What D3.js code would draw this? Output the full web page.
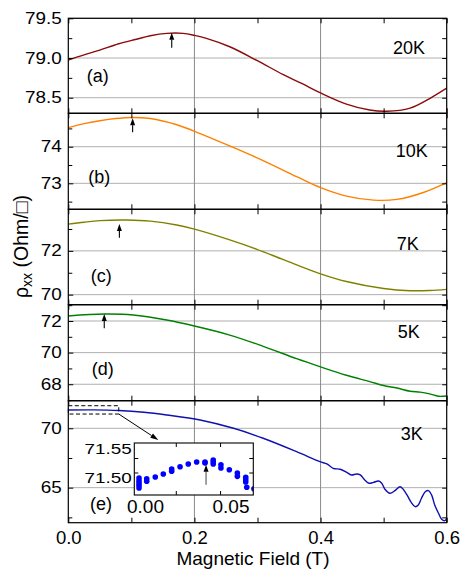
<!DOCTYPE html>
<html><head><meta charset="utf-8">
<script src="https://cdn.jsdelivr.net/npm/d3@7"></script>
<style>
body{margin:0;background:#fff;}
svg{display:block;font-family:"Liberation Sans",Arial,Helvetica,sans-serif;}
</style></head><body><svg id="chart" width="460" height="569"></svg>
<script>
// ---------------- data ----------------
const temperatures = ["20K", "10K", "7K", "5K", "3K"];
const panelLetters = ["(a)", "(b)", "(c)", "(d)", "(e)"];

const field20K = [0, 0.025, 0.05, 0.08, 0.108, 0.13, 0.156, 0.182, 0.2, 0.219, 0.256, 0.299, 0.341, 0.37, 0.4, 0.441, 0.478, 0.505, 0.542, 0.573, 0.6];
const rho20K   = [78.975, 79.04, 79.10, 79.18, 79.236, 79.28, 79.31, 79.31, 79.285, 79.248, 79.142, 78.97, 78.79, 78.68, 78.56, 78.42, 78.345, 78.33, 78.37, 78.49, 78.62];

const field10K = [0, 0.025, 0.05, 0.075, 0.1, 0.13, 0.172, 0.209, 0.256, 0.309, 0.362, 0.4, 0.441, 0.484, 0.521, 0.563, 0.6];
const rho10K   = [74.52, 74.63, 74.71, 74.77, 74.80, 74.77, 74.60, 74.36, 74.02, 73.62, 73.18, 72.88, 72.65, 72.54, 72.56, 72.75, 73.02];

const field7K = [0, 0.025, 0.05, 0.093, 0.13, 0.172, 0.2, 0.256, 0.299, 0.341, 0.4, 0.441, 0.5, 0.542, 0.573, 0.6];
const rho7K   = [73.22, 73.31, 73.38, 73.41, 73.36, 73.18, 72.99, 72.50, 72.07, 71.60, 70.95, 70.60, 70.28, 70.18, 70.19, 70.24];

const field5K = [0, 0.057, 0.103, 0.156, 0.2, 0.256, 0.309, 0.362, 0.4, 0.441, 0.478, 0.5, 0.521, 0.542, 0.558, 0.573, 0.587, 0.6];
const rho5K   = [72.32, 72.44, 72.38, 72.06, 71.68, 71.11, 70.40, 69.62, 69.1, 68.57, 68.17, 67.92, 67.76, 67.56, 67.50, 67.39, 67.24, 67.26];

const field3K = [0, 0.04, 0.08, 0.12, 0.156, 0.209, 0.262, 0.309, 0.362, 0.399, 0.41, 0.42, 0.431, 0.441, 0.449, 0.457, 0.463, 0.470, 0.477, 0.484, 0.492, 0.497, 0.502, 0.51, 0.518, 0.526, 0.531, 0.537, 0.544, 0.55, 0.555, 0.56, 0.566, 0.571, 0.576, 0.581, 0.587, 0.592, 0.597, 0.6];
const rho3K   = [71.54, 71.55, 71.50, 71.35, 71.12, 70.70, 70.0, 69.16, 68.03, 67.19, 67.0, 66.63, 66.55, 66.30, 66.07, 66.15, 66.07, 65.65, 65.37, 65.45, 65.56, 65.37, 64.87, 64.53, 64.75, 65.08, 64.87, 64.39, 63.74, 63.40, 63.54, 64.11, 64.66, 64.75, 64.39, 63.54, 62.85, 62.34, 62.22, 62.42];

const seriesFields = [field20K, field10K, field7K, field5K, field3K];
const seriesRho    = [rho20K, rho10K, rho7K, rho5K, rho3K];

// axis ranges and ticks
const xDomain = [0, 0.6];
const xMajorTicks = [0, 0.2, 0.4, 0.6];
const xMinorTicks = [0.1, 0.3, 0.5];
const xGridValues = [0.2, 0.4];
const yDomains = [[78.304, 79.5], [72.29, 74.913], [69.541, 73.899], [66.96, 73.03], [62.05, 72.323]];
const yMajorTicks = [[78.5, 79.0, 79.5], [73, 74], [70, 72], [68, 70, 72], [65, 70]];
const yMinorTicks = [[78.75, 79.25], [72.5, 73.5, 74.5], [71, 73], [67, 69, 71, 73], [62.5, 67.5]];
const yTickFormats = [".1f", "d", "d", "d", "d"];

// peak markers (arrows) in panels a-d
const peakField = [0.164, 0.102, 0.081, 0.057];
const peakArrowTip = [79.319, 74.776, 73.225, 72.442];
const peakArrowTail = [79.13, 74.394, 72.596, 71.539];

// zoom box in panel (e) and pointer arrow
const zoomBoxField = [0, 0.08];
const zoomBoxRho = [71.2, 71.9];
const pointerFrom = [0.08, 71.2];
const pointerTo = [0.1427, 69.015];

// inset data (3K, low field)
const insetField = [-0.0035, -0.0035, -0.0035, -0.0035, -0.0035, 0.001, 0.001, 0.006, 0.0107, 0.0156, 0.0156, 0.0205, 0.0253, 0.0302, 0.0351, 0.0351, 0.0399, 0.0399, 0.0399, 0.0444, 0.0444, 0.0493, 0.054, 0.054, 0.0589, 0.0589, 0.0589, 0.0595, 0.0637];
const insetRho   = [71.5005, 71.4959, 71.4919, 71.4879, 71.4833, 71.4993, 71.4948, 71.5022, 71.5074, 71.5160, 71.5121, 71.5200, 71.5247, 71.5281, 71.5281, 71.5264, 71.5316, 71.5281, 71.5247, 71.5234, 71.5178, 71.5148, 71.5091, 71.5034, 71.5017, 71.4976, 71.4936, 71.4845, 71.4821];
const insetXDomain = [-0.00626, 0.06333];
const insetYDomain = [71.4712, 71.5609];
const insetXLabels = [0, 0.05];
const insetYLabels = [71.50, 71.55];
const insetXTicks = [0.018, 0.0439];
const insetYTicks = [71.51, 71.535];
const insetPeakField = 0.0357;
const insetArrowTip = 71.5234;
const insetArrowTail = 71.489;

// ---------------- layout & style ----------------
const colors = ["#8B0A0A", "#FF8000", "#808000", "#008000", "#1010B0"];
const plotLeft = 68.3, plotRight = 446.7;
const panelTops = [18.3, 113.3, 209.3, 304.7, 400.7];
const panelBottoms = [113.3, 209.3, 304.7, 400.7, 522.7];
const tempLabelPos = [[393, 54.2], [395.7, 156.5], [396.7, 249.8], [397.7, 338.2], [400.7, 439.8]];
const letterPos = [[86.7, 82.4], [88.3, 183], [90.7, 282], [91.7, 374.7], [90, 509.7]];
const insetBox = {left: 134.3, right: 253.3, top: 443, bottom: 495};

const svg = d3.select("#chart");
const x = d3.scaleLinear().domain(xDomain).range([plotLeft, plotRight]);

function arrow(g, x1, y1, x2, y2, headLen, headW, lineColor, lw) {
  const ang = Math.atan2(y2 - y1, x2 - x1);
  const bx = x2 - headLen * Math.cos(ang), by = y2 - headLen * Math.sin(ang);
  g.append("line").attr("x1", x1).attr("y1", y1).attr("x2", bx).attr("y2", by)
    .attr("stroke", lineColor).attr("stroke-width", lw);
  const px = -Math.sin(ang) * headW / 2, py = Math.cos(ang) * headW / 2;
  g.append("path").attr("d", `M${x2},${y2}L${bx + px},${by + py}L${bx - px},${by - py}Z`).attr("fill", "#000");
}

function styleAxis(sel) {
  sel.select(".domain").remove();
  sel.selectAll(".tick line").attr("stroke", "#000").attr("stroke-width", 1);
}

let panelScales = [];
temperatures.forEach((t, i) => {
  const top = panelTops[i], bottom = panelBottoms[i];
  const y = d3.scaleLinear().domain(yDomains[i]).range([bottom, top]);
  panelScales.push(y);
  const g = svg.append("g");
  const clipId = "clip" + i;
  svg.append("clipPath").attr("id", clipId).append("rect")
    .attr("x", plotLeft).attr("y", top).attr("width", plotRight - plotLeft).attr("height", bottom - top);

  // grid
  g.selectAll(".hg").data(yMajorTicks[i]).join("line")
    .attr("x1", plotLeft).attr("x2", plotRight).attr("y1", d => y(d)).attr("y2", d => y(d))
    .attr("stroke", "#b0b0b0").attr("stroke-width", 1);
  g.selectAll(".vg").data(xGridValues).join("line")
    .attr("x1", d => x(d)).attr("x2", d => x(d)).attr("y1", top).attr("y2", bottom)
    .attr("stroke", "#8a8a8a").attr("stroke-width", 1);

  // curve
  const pts = seriesFields[i].map((f, k) => [f, seriesRho[i][k]]);
  g.append("path").datum(pts).attr("clip-path", `url(#${clipId})`)
    .attr("fill", "none").attr("stroke", colors[i]).attr("stroke-width", 1.4)
    .attr("d", d3.line().x(d => x(d[0])).y(d => y(d[1])).curve(d3.curveCatmullRom.alpha(0.5)));

  // frame
  g.append("rect").attr("x", plotLeft).attr("y", top).attr("width", plotRight - plotLeft).attr("height", bottom - top)
    .attr("fill", "none").attr("stroke", "#000").attr("stroke-width", 1.2);

  // y axes
  const yl = g.append("g").attr("transform", `translate(${plotLeft},0)`)
    .call(d3.axisLeft(y).tickValues(yMajorTicks[i]).tickSize(-5).tickPadding(5.6).tickFormat(d3.format(yTickFormats[i])));
  styleAxis(yl);
  yl.selectAll("text").attr("font-size", 16).attr("font-family", "Liberation Sans, Arial, sans-serif")
    .attr("fill", "#000").attr("transform", "scale(1.18,1)");
  const ylm = g.append("g").attr("transform", `translate(${plotLeft},0)`)
    .call(d3.axisLeft(y).tickValues(yMinorTicks[i]).tickSize(-4).tickFormat(""));
  styleAxis(ylm);
  const yr = g.append("g").attr("transform", `translate(${plotRight},0)`)
    .call(d3.axisRight(y).tickValues(yMajorTicks[i].concat(yMinorTicks[i])).tickSize(-4.5).tickFormat(""));
  styleAxis(yr);

  // x ticks top/bottom
  const xt = g.append("g").attr("transform", `translate(0,${top})`)
    .call(d3.axisTop(x).tickValues(xMajorTicks.concat(xMinorTicks)).tickSize(-5).tickFormat(""));
  styleAxis(xt);
  const last = i === temperatures.length - 1;
  const xb = g.append("g").attr("transform", `translate(0,${bottom})`)
    .call(d3.axisBottom(x).tickValues(last ? xMajorTicks : xMajorTicks.concat(xMinorTicks)).tickSize(-5).tickPadding(8.5)
      .tickFormat(last ? d3.format(".1f") : ""));
  styleAxis(xb);
  if (last) {
    const xbm = g.append("g").attr("transform", `translate(0,${bottom})`)
      .call(d3.axisBottom(x).tickValues(xMinorTicks).tickSize(-5).tickFormat(""));
    styleAxis(xbm);
    xb.selectAll("text").attr("font-size", 18.5).attr("font-family", "Liberation Sans, Arial, sans-serif").attr("fill", "#000");
  }

  // labels
  g.append("text").attr("x", tempLabelPos[i][0]).attr("y", tempLabelPos[i][1])
    .attr("font-size", 18).attr("fill", "#000").text(t);
  g.append("text").attr("x", letterPos[i][0]).attr("y", letterPos[i][1])
    .attr("font-size", 18).attr("fill", "#000").text(panelLetters[i]);

  // peak arrows
  if (i < peakField.length) {
    arrow(g, x(peakField[i]), y(peakArrowTail[i]), x(peakField[i]), y(peakArrowTip[i]), 7, 5, "#000", 1.1);
  }
});

// zoom box & pointer in panel e
const ye = panelScales[4];
svg.append("rect")
  .attr("x", x(zoomBoxField[0])).attr("y", ye(zoomBoxRho[1]))
  .attr("width", x(zoomBoxField[1]) - x(zoomBoxField[0])).attr("height", ye(zoomBoxRho[0]) - ye(zoomBoxRho[1]))
  .attr("fill", "none").attr("stroke", "#000").attr("stroke-width", 1).attr("stroke-dasharray", "4,2.5");
arrow(svg, x(pointerFrom[0]), ye(pointerFrom[1]), x(pointerTo[0]), ye(pointerTo[1]), 8, 5, "#000", 1);

// inset
const ix = d3.scaleLinear().domain(insetXDomain).range([insetBox.left, insetBox.right]);
const iy = d3.scaleLinear().domain(insetYDomain).range([insetBox.bottom, insetBox.top]);
const ig = svg.append("g");
ig.append("rect").attr("x", insetBox.left).attr("y", insetBox.top)
  .attr("width", insetBox.right - insetBox.left).attr("height", insetBox.bottom - insetBox.top)
  .attr("fill", "#fff");
svg.append("clipPath").attr("id", "insetClip").append("rect")
  .attr("x", insetBox.left).attr("y", insetBox.top)
  .attr("width", insetBox.right - insetBox.left).attr("height", insetBox.bottom - insetBox.top);
ig.append("g").attr("clip-path", "url(#insetClip)")
  .selectAll("circle").data(insetField.map((f, k) => [f, insetRho[k]])).join("circle")
  .attr("cx", d => ix(d[0])).attr("cy", d => iy(d[1])).attr("r", 2.8).attr("fill", "#0000FF");
arrow(ig, ix(insetPeakField), iy(insetArrowTail), ix(insetPeakField), iy(insetArrowTip), 7, 5, "#555", 1.1);
ig.append("rect").attr("x", insetBox.left).attr("y", insetBox.top)
  .attr("width", insetBox.right - insetBox.left).attr("height", insetBox.bottom - insetBox.top)
  .attr("fill", "none").attr("stroke", "#000").attr("stroke-width", 1.1);
[[d3.axisBottom, insetBox.bottom, insetXTicks, ix, true], [d3.axisTop, insetBox.top, insetXTicks, ix, true],
 [d3.axisLeft, insetBox.left, insetYTicks, iy, false], [d3.axisRight, insetBox.right, insetYTicks, iy, false]]
  .forEach(([ax, pos, vals, sc, horiz]) => {
    const a = ig.append("g").attr("transform", horiz ? `translate(0,${pos})` : `translate(${pos},0)`)
      .call(ax(sc).tickValues(vals).tickSize(-4).tickFormat(""));
    styleAxis(a);
  });
const ixl = ig.append("g").attr("transform", `translate(0,${insetBox.bottom})`)
  .call(d3.axisBottom(ix).tickValues(insetXLabels).tickSize(0).tickPadding(5).tickFormat(d3.format(".2f")));
styleAxis(ixl);
ixl.selectAll("text").attr("font-size", 19).attr("font-family", "Liberation Sans, Arial, sans-serif").attr("fill", "#000");
const iyl = ig.append("g").attr("transform", `translate(${insetBox.left},0)`)
  .call(d3.axisLeft(iy).tickValues(insetYLabels).tickSize(0).tickPadding(2).tickFormat(d3.format(".2f")));
styleAxis(iyl);
iyl.selectAll("text").attr("font-size", 14.5).attr("font-family", "Liberation Sans, Arial, sans-serif")
  .attr("fill", "#000").attr("transform", "scale(1.3,1)");

// axis titles
svg.append("text").attr("x", 253).attr("y", 565)
  .attr("text-anchor", "middle").attr("font-size", 19).attr("fill", "#000").text("Magnetic Field (T)");
const yt = svg.append("text").attr("transform", "translate(27.5,298) rotate(-90)")
  .attr("text-anchor", "start").attr("font-size", 19.5).attr("fill", "#000");
yt.append("tspan").text("ρ");
yt.append("tspan").attr("font-size", 14).attr("dy", 4).text("xx");
yt.append("tspan").attr("dy", -4).text(" (Ohm/□)");
</script></body></html>
